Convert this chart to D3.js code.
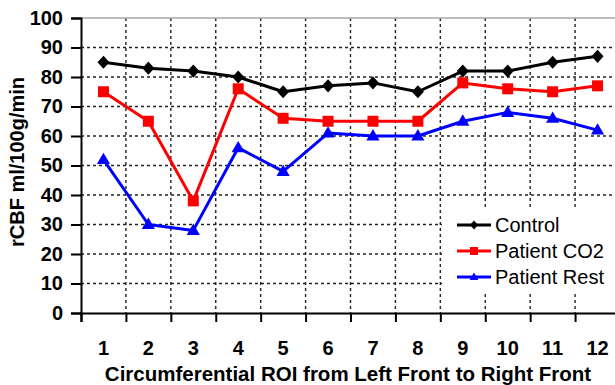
<!DOCTYPE html>
<html>
<head>
<meta charset="utf-8">
<script src="https://cdn.jsdelivr.net/npm/d3@7"></script>
<style>
  body { margin: 0; background: #fff; }
  svg { display: block; font-family: "Liberation Sans", Arial, sans-serif; }
</style>
</head>
<body>
<svg id="chart" width="615" height="385"></svg>
<script>
// ROI positions 1..12
const categories = ['1', '2', '3', '4', '5', '6', '7', '8', '9', '10', '11', '12'];
const controlValues = [85, 83, 82, 80, 75, 77, 78, 75, 82, 82, 85, 87];
const co2Values = [75, 65, 38, 76, 66, 65, 65, 65, 78, 76, 75, 77];
const restValues = [52, 30, 28, 56, 48, 61, 60, 60, 65, 68, 66, 62];
const yTicks = [0, 10, 20, 30, 40, 50, 60, 70, 80, 90, 100];
const seriesNames = ['Control', 'Patient CO2', 'Patient Rest'];

const svg = d3.select('#chart');

const plot = {left: 81, right: 620, top: 18, bottom: 313};

const x = d3.scaleBand().domain(categories).range([plot.left, plot.right]).padding(0);
// edges between the ROI bands, for grid lines and tick marks
const xEdge = d3.scaleLinear().domain([0, categories.length]).range([plot.left, plot.right]);
const y = d3.scaleLinear().domain([0, 100]).range([plot.bottom, plot.top]);

const series = [
  {name: seriesNames[0], values: controlValues, color: '#000000', marker: 'diamond'},
  {name: seriesNames[1], values: co2Values, color: '#ff0000', marker: 'square'},
  {name: seriesNames[2], values: restValues, color: '#0000ff', marker: 'triangle'}
];

function markerPath(type, s) {
  if (type === 'diamond') return `M0,${-s * 1.1}L${s},0L0,${s * 1.1}L${-s},0Z`;
  if (type === 'square') return `M${-s},${-s}H${s}V${s}H${-s}Z`;
  return `M0,${-s * 1.15}L${s * 1.1},${s * 0.75}L${-s * 1.1},${s * 0.75}Z`;
}

// grid
const grid = svg.append('g').attr('stroke', '#222').attr('stroke-width', 1.4).attr('stroke-dasharray', '3,3');
grid.selectAll('line.h')
  .data(yTicks.filter(d => d > 0 && d < 100))
  .join('line')
  .attr('class', 'h')
  .attr('x1', plot.left).attr('x2', 615)
  .attr('y1', d => y(d)).attr('y2', d => y(d));
grid.selectAll('line.v')
  .data(d3.range(1, categories.length))
  .join('line')
  .attr('class', 'v')
  .attr('x1', d => xEdge(d)).attr('x2', d => xEdge(d))
  .attr('y1', plot.top).attr('y2', plot.bottom);

// top border
svg.append('line')
  .attr('x1', plot.left).attr('x2', 615)
  .attr('y1', y(100)).attr('y2', y(100))
  .attr('stroke', '#a8a8a8').attr('stroke-width', 1.5);

// legend background hides the grid behind it
svg.append('rect')
  .attr('x', 442).attr('y', 208).attr('width', 180).attr('height', 84)
  .attr('fill', '#fff');

// y axis
const yAxis = svg.append('g')
  .attr('transform', `translate(${plot.left},0)`)
  .call(d3.axisLeft(y).tickValues(yTicks).tickSize(10).tickPadding(8));
yAxis.select('.domain').attr('stroke', '#000').attr('stroke-width', 2);
yAxis.selectAll('.tick line').attr('stroke', '#000').attr('stroke-width', 2);
yAxis.selectAll('.tick text')
  .attr('font-size', 20).attr('font-weight', 'bold').attr('fill', '#000')
  .attr('font-family', '"Liberation Sans", Arial, sans-serif');

// x axis: tick marks on band edges, labels on band centres
const xTickAxis = svg.append('g')
  .attr('transform', `translate(0,${plot.bottom})`)
  .call(d3.axisBottom(xEdge).tickValues(d3.range(0, categories.length + 1)).tickSize(9).tickFormat(''));
xTickAxis.select('.domain').attr('stroke', '#000').attr('stroke-width', 2.2);
xTickAxis.selectAll('.tick line').attr('stroke', '#000').attr('stroke-width', 2);

const xLabelAxis = svg.append('g')
  .attr('transform', `translate(0,${plot.bottom})`)
  .call(d3.axisBottom(x).tickSize(0).tickPadding(28));
xLabelAxis.select('.domain').remove();
xLabelAxis.selectAll('.tick text')
  .attr('font-size', 20).attr('font-weight', 'bold').attr('fill', '#000')
  .attr('font-family', '"Liberation Sans", Arial, sans-serif');

// series
const line = d3.line()
  .x((d, i) => x(categories[i]) + x.bandwidth() / 2)
  .y(d => y(d));

series.forEach(s => {
  svg.append('path')
    .datum(s.values)
    .attr('d', line)
    .attr('fill', 'none')
    .attr('stroke', s.color)
    .attr('stroke-width', 3)
    .attr('stroke-linejoin', 'round');
  svg.append('g').selectAll('path')
    .data(s.values)
    .join('path')
    .attr('transform', (d, i) => `translate(${x(categories[i]) + x.bandwidth() / 2},${y(d)})`)
    .attr('d', markerPath(s.marker, s.marker === 'square' ? 5.5 : 6))
    .attr('fill', s.color);
});

// legend
const legend = svg.append('g');
series.forEach((s, i) => {
  const ly = 225 + i * 26;
  legend.append('line')
    .attr('x1', 457).attr('x2', 491).attr('y1', ly).attr('y2', ly)
    .attr('stroke', s.color).attr('stroke-width', 3);
  legend.append('path')
    .attr('transform', `translate(474,${ly})`)
    .attr('d', markerPath(s.marker, 4))
    .attr('fill', s.color);
  legend.append('text')
    .attr('x', 495).attr('y', ly + 7)
    .attr('font-size', 20)
    .attr('fill', '#000')
    .text(s.name);
});

// axis titles
svg.append('text')
  .attr('x', 348).attr('y', 381)
  .attr('text-anchor', 'middle')
  .attr('font-size', 20.5).attr('font-weight', 'bold')
  .text('Circumferential ROI from Left Front to Right Front');

svg.append('text')
  .attr('transform', 'translate(24,162) rotate(-90)')
  .attr('text-anchor', 'middle')
  .attr('font-size', 20).attr('font-weight', 'bold')
  .text('rCBF ml/100g/min');
</script>
</body>
</html>
